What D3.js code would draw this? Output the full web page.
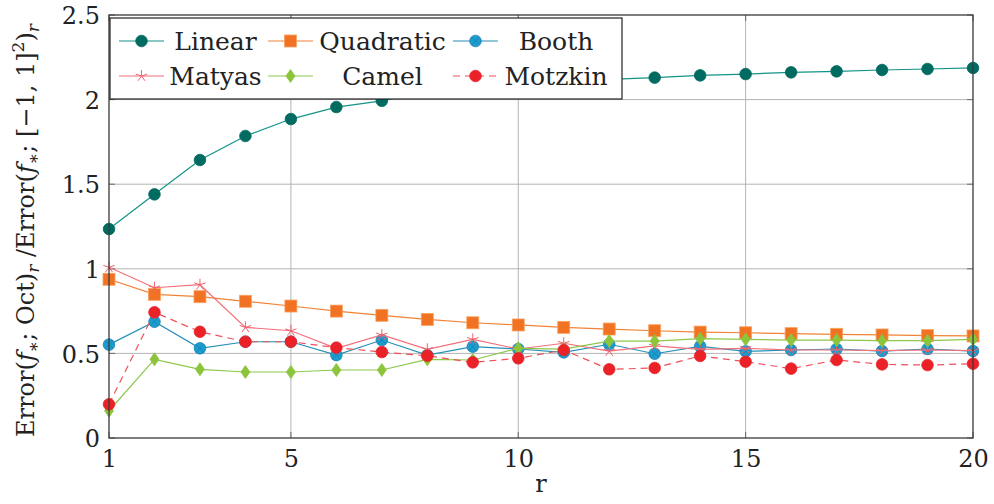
<!DOCTYPE html>
<html>
<head>
<meta charset="utf-8">
<script src="https://cdn.jsdelivr.net/npm/d3@7"></script>
<style>
  body { margin: 0; background: #fff; }
</style>
</head>
<body>
<script>
// dati
const r = d3.range(1, 21);
const linear = [1.235, 1.44, 1.643, 1.785, 1.885, 1.956, 1.993, 2.05, 2.07, 2.09, 2.105, 2.12, 2.13, 2.143, 2.151, 2.161, 2.167, 2.175, 2.181, 2.187];
const quadratic = [0.938, 0.849, 0.835, 0.808, 0.78, 0.75, 0.725, 0.701, 0.681, 0.668, 0.654, 0.644, 0.634, 0.626, 0.622, 0.617, 0.613, 0.609, 0.605, 0.603];
const booth = [0.552, 0.687, 0.53, 0.569, 0.569, 0.49, 0.579, 0.49, 0.54, 0.526, 0.506, 0.554, 0.498, 0.542, 0.512, 0.52, 0.526, 0.514, 0.526, 0.514];
const matyas = [1.009, 0.888, 0.906, 0.654, 0.634, 0.53, 0.609, 0.524, 0.583, 0.526, 0.56, 0.514, 0.544, 0.524, 0.53, 0.52, 0.52, 0.516, 0.52, 0.516];
const camel = [0.161, 0.465, 0.406, 0.39, 0.39, 0.402, 0.402, 0.465, 0.461, 0.53, 0.525, 0.573, 0.573, 0.587, 0.583, 0.579, 0.579, 0.575, 0.575, 0.583];
const motzkin = [0.199, 0.743, 0.628, 0.569, 0.569, 0.534, 0.508, 0.486, 0.447, 0.471, 0.52, 0.406, 0.414, 0.485, 0.451, 0.41, 0.461, 0.435, 0.431, 0.439];
const xTicks = [1, 5, 10, 15, 20];
const yTicks = [0, 0.5, 1, 1.5, 2, 2.5];

const series = [
  { name: "Linear", values: linear, mark: "circle", fill: "#006b60", stroke: "#00695f", line: "#139488", dash: null },
  { name: "Quadratic", values: quadratic, mark: "square", fill: "#f07222", stroke: "#f7a464", line: "#f28236", dash: null },
  { name: "Booth", values: booth, mark: "otimes", fill: "#1a9ed0", stroke: "#1e7fae", line: "#2690b8", dash: null },
  { name: "Matyas", values: matyas, mark: "star", fill: "none", stroke: "#f0606c", line: "#f2707a", dash: null },
  { name: "Camel", values: camel, mark: "diamond", fill: "#8cc43c", stroke: "#8cc43c", line: "#8cc84a", dash: null },
  { name: "Motzkin", values: motzkin, mark: "circle", fill: "#ea2228", stroke: "#ea2228", line: "#f0505a", dash: "7,5" }
];

const FONT = "'DejaVu Serif', 'Liberation Serif', serif";
const FS = "24px", FSS = "17px";
const width = 994, height = 504;
const mLeft = 109, mRight = 973, mTop = 15, mBottom = 438;

const svg = d3.select("body").append("svg").attr("width", width).attr("height", height)
  .style("font-family", FONT);

const x = d3.scaleLinear().domain([1, 20]).range([mLeft, mRight]);
const y = d3.scaleLinear().domain([0, 2.5]).range([mBottom, mTop]);

// griglia
svg.append("g").selectAll("line").data(xTicks.slice(1, -1)).enter().append("line")
  .attr("x1", d => x(d)).attr("x2", d => x(d)).attr("y1", mTop).attr("y2", mBottom)
  .attr("stroke", "#b4b4b4").attr("stroke-width", 1);
svg.append("g").selectAll("line").data(yTicks.slice(1, -1)).enter().append("line")
  .attr("x1", mLeft).attr("x2", mRight).attr("y1", d => y(d)).attr("y2", d => y(d))
  .attr("stroke", "#b4b4b4").attr("stroke-width", 1);

// tacche interne
const tk = svg.append("g").attr("stroke", "#6a6a6a").attr("stroke-width", 1);
xTicks.forEach(t => {
  tk.append("line").attr("x1", x(t)).attr("x2", x(t)).attr("y1", mBottom).attr("y2", mBottom - 6);
  tk.append("line").attr("x1", x(t)).attr("x2", x(t)).attr("y1", mTop).attr("y2", mTop + 6);
});
yTicks.forEach(t => {
  tk.append("line").attr("x1", mLeft).attr("x2", mLeft + 6).attr("y1", y(t)).attr("y2", y(t));
  tk.append("line").attr("x1", mRight).attr("x2", mRight - 6).attr("y1", y(t)).attr("y2", y(t));
});

// assi (solo etichette)
const xAxis = svg.append("g").attr("transform", `translate(0,${mBottom})`)
  .call(d3.axisBottom(x).tickValues(xTicks).tickSize(0).tickPadding(12).tickFormat(d3.format("d")));
xAxis.attr("font-family", null).attr("font-size", null);
xAxis.select(".domain").remove();
xAxis.selectAll("text").style("font-family", FONT).style("font-size", FS).attr("fill", "#222");

const yAxis = svg.append("g").attr("transform", `translate(${mLeft},0)`)
  .call(d3.axisLeft(y).tickValues(yTicks).tickSize(0).tickPadding(9).tickFormat(d => d3.format("")(d)));
yAxis.attr("font-family", null).attr("font-size", null);
yAxis.select(".domain").remove();
yAxis.selectAll("text").style("font-family", FONT).style("font-size", FS).attr("fill", "#222").attr("dy", "0.36em");

// simboli
function drawMark(g, s, cx, cy) {
  if (s.mark === "circle") {
    g.append("circle").attr("cx", cx).attr("cy", cy).attr("r", 5.8)
      .attr("fill", s.fill).attr("stroke", s.stroke).attr("stroke-width", 0.8);
  } else if (s.mark === "square") {
    g.append("rect").attr("x", cx - 6).attr("y", cy - 6).attr("width", 12).attr("height", 12)
      .attr("fill", s.fill).attr("stroke", s.stroke).attr("stroke-width", 0.8);
  } else if (s.mark === "otimes") {
    g.append("circle").attr("cx", cx).attr("cy", cy).attr("r", 5.8)
      .attr("fill", s.fill).attr("stroke", s.stroke).attr("stroke-width", 0.8);
    const d = 4.1;
    g.append("path").attr("d", `M${cx - d},${cy - d}L${cx + d},${cy + d}M${cx - d},${cy + d}L${cx + d},${cy - d}`)
      .attr("stroke", s.stroke).attr("stroke-width", 0.9);
  } else if (s.mark === "star") {
    let p = "";
    for (let k = 0; k < 5; k++) {
      const a = -Math.PI / 2 + k * 2 * Math.PI / 5;
      p += `M${cx},${cy}L${cx + 6 * Math.cos(a)},${cy + 6 * Math.sin(a)}`;
    }
    g.append("path").attr("d", p).attr("stroke", s.stroke).attr("stroke-width", 1).attr("fill", "none");
  } else if (s.mark === "diamond") {
    g.append("path").attr("d", `M${cx},${cy - 6.5}L${cx + 4.5},${cy}L${cx},${cy + 6.5}L${cx - 4.5},${cy}Z`)
      .attr("fill", s.fill).attr("stroke", s.stroke).attr("stroke-width", 0.8);
  }
}

const line = d3.line().x(d => x(d.r)).y(d => y(d.v));

series.forEach(s => {
  const pts = r.map((rv, i) => ({ r: rv, v: s.values[i] }));
  const g = svg.append("g");
  g.append("path").datum(pts).attr("d", line)
    .attr("fill", "none").attr("stroke", s.line).attr("stroke-width", 1.2)
    .attr("stroke-dasharray", s.dash);
  pts.forEach(p => drawMark(g, s, x(p.r), y(p.v)));
});

// cornice
svg.append("rect").attr("x", mLeft).attr("y", mTop).attr("width", mRight - mLeft).attr("height", mBottom - mTop)
  .attr("fill", "none").attr("stroke", "#3a3a3a").attr("stroke-width", 1.3);

// legenda
const leg = svg.append("g");
leg.append("rect").attr("x", 110).attr("y", 18).attr("width", 512).attr("height", 81)
  .attr("fill", "#fff").attr("stroke", "#222").attr("stroke-width", 1.2);
const colSample = [119, 268, 453];
const colText = [215.5, 382.5, 556];
const rowY = [41, 76];
series.forEach((s, i) => {
  const c = i % 3, rr = Math.floor(i / 3);
  const yy = rowY[rr];
  leg.append("line").attr("x1", colSample[c]).attr("x2", colSample[c] + 45).attr("y1", yy).attr("y2", yy)
    .attr("stroke", s.line).attr("stroke-width", 1.2).attr("stroke-dasharray", s.dash);
  drawMark(leg, s, colSample[c] + 22.5, yy);
  leg.append("text").attr("x", colText[c]).attr("y", yy + 9).attr("text-anchor", "middle")
    .style("font-family", FONT).style("font-size", "25px").attr("fill", "#222").text(s.name);
});

// etichette assi
svg.append("text").attr("x", (mLeft + mRight) / 2).attr("y", 492).attr("text-anchor", "middle")
  .style("font-family", FONT).style("font-size", FS).attr("fill", "#222").text("r");

const yl = svg.append("text").attr("transform", `translate(34,${(mTop + mBottom) / 2 + 4}) rotate(-90)`)
  .attr("text-anchor", "middle").style("font-family", FONT).style("font-size", FS).attr("fill", "#222");
yl.append("tspan").text("Error(");
yl.append("tspan").attr("font-style", "italic").text("f");
yl.append("tspan").attr("dy", 5).style("font-size", FSS).text("∗");
yl.append("tspan").attr("dy", -5).text("; Oct)");
yl.append("tspan").attr("dy", 5).attr("font-style", "italic").style("font-size", FSS).text("r");
yl.append("tspan").attr("dy", -5).text(" /Error(");
yl.append("tspan").attr("font-style", "italic").text("f");
yl.append("tspan").attr("dy", 5).style("font-size", FSS).text("∗");
yl.append("tspan").attr("dy", -5).text("; [−1, 1]");
yl.append("tspan").attr("dy", -10).style("font-size", FSS).text("2");
yl.append("tspan").attr("dy", 10).text(")");
yl.append("tspan").attr("dy", 5).attr("font-style", "italic").style("font-size", FSS).text("r");
</script>
</body>
</html>
